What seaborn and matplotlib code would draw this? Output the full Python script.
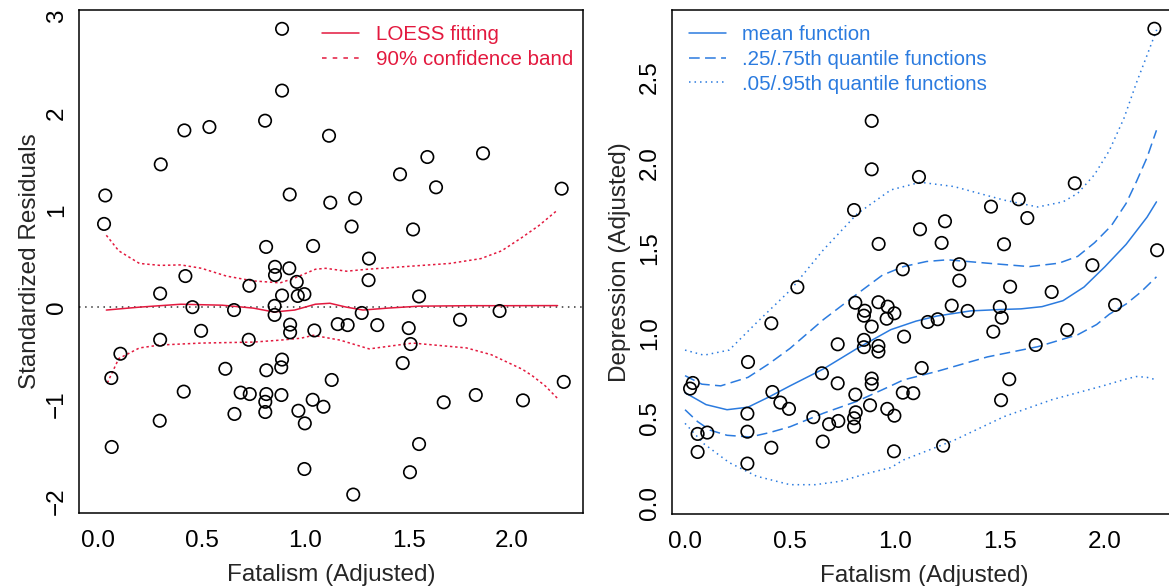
import matplotlib
matplotlib.use("Agg")
import matplotlib.pyplot as plt
import numpy as np
import pandas as pd
import seaborn as sns
from matplotlib.lines import Line2D

# ---- observations: adjusted fatalism, standardized residuals ----
resid_x = [0.035, 0.029, 0.303, 0.417, 0.538, 0.807, 0.889, 0.889, 0.926, 0.812,
           0.855, 0.924, 0.855, 0.422, 0.731, 0.300, 0.889, 0.960, 0.965, 0.997,
           1.116, 1.591, 1.860, 1.459, 1.633, 2.240, 1.122, 1.242, 1.225, 1.522,
           1.039, 1.309, 1.307, 1.551, 1.274, 1.940, 1.749, 0.928, 0.928, 1.045,
           1.158, 1.206, 1.349, 1.501, 1.510, 1.472, 0.889, 0.885, 1.129, 0.886,
           1.037, 1.089, 0.968, 0.999, 1.670, 1.825, 2.053, 2.250, 1.551, 1.507,
           0.997, 1.233, 0.456, 0.657, 0.853, 0.853, 0.498, 0.300, 0.728, 0.108,
           0.615, 0.813, 0.064, 0.414, 0.689, 0.733, 0.813, 0.808, 0.659, 0.808,
           0.298, 0.066]
resid_y = [1.15, 0.857, 1.47, 1.82, 1.855, 1.92, 2.866, 2.23, 1.16, 0.62,
           0.415, 0.40, 0.33, 0.32, 0.22, 0.14, 0.12, 0.26, 0.115, 0.134,
           1.765, 1.546, 1.584, 1.368, 1.234, 1.22, 1.076, 1.12, 0.83, 0.80,
           0.63, 0.50, 0.278, 0.11, -0.06, -0.04, -0.13, -0.18, -0.26, -0.24,
           -0.175, -0.185, -0.185, -0.216, -0.38, -0.576, -0.54, -0.62, -0.75, -0.905,
           -0.954, -1.026, -1.067, -1.197, -0.98, -0.905, -0.96, -0.77, -1.41, -1.70,
           -1.667, -1.93, 0.0, -0.03, 0.013, -0.08, -0.244, -0.336, -0.336, -0.48,
           -0.635, -0.65, -0.73, -0.87, -0.88, -0.895, -0.895, -0.975, -1.10, -1.08,
           -1.17, -1.44]

# LOESS fit of the residuals and its 90% band
loess_x = [0.04, 0.2, 0.4, 0.6, 0.75, 0.85, 0.95, 1.05, 1.12, 1.2, 1.28, 1.4, 1.55, 1.8, 2.0, 2.22]
loess_fit = [-0.03, 0.0, 0.03, 0.02, -0.01, -0.05, -0.03, 0.03, 0.04, 0.0, -0.03, -0.01, 0.01, 0.015, 0.015, 0.016]
band_hi_x = [0.04, 0.1, 0.2, 0.3, 0.4, 0.5, 0.62, 0.75, 0.88, 0.95, 1.05, 1.1, 1.2, 1.3, 1.5, 1.7, 1.85, 1.95, 2.05, 2.13, 2.22]
band_hi = [0.74, 0.58, 0.45, 0.43, 0.435, 0.40, 0.32, 0.27, 0.25, 0.30, 0.39, 0.40, 0.37, 0.39, 0.42, 0.45, 0.50, 0.58, 0.72, 0.84, 1.0]
band_lo_x = [0.045, 0.1, 0.2, 0.3, 0.5, 0.75, 0.88, 0.98, 1.04, 1.17, 1.31, 1.52, 1.78, 1.9, 1.97, 2.05, 2.1, 2.16, 2.22]
band_lo = [-0.78, -0.53, -0.42, -0.39, -0.37, -0.36, -0.34, -0.32, -0.29, -0.34, -0.43, -0.37, -0.42, -0.49, -0.56, -0.64, -0.71, -0.81, -0.94]

# ---- observations: adjusted fatalism, adjusted depression ----
dep_x = [0.889, 0.889, 0.805, 0.922, 0.535, 2.235, 1.114, 1.856, 1.589, 1.457,
         1.630, 1.238, 1.119, 1.222, 1.519, 2.248, 1.940, 1.037, 1.306, 1.306,
         1.548, 1.746, 0.921, 0.965, 0.997, 0.960, 0.889, 1.270, 1.346, 1.499,
         1.508, 1.156, 1.203, 1.468, 2.048, 1.820, 1.670, 1.043, 0.921, 0.921,
         1.127, 0.889, 0.889, 1.544, 1.037, 1.087, 0.881, 0.963, 0.997, 1.505,
         0.995, 1.229, 0.811, 0.856, 0.852, 0.411, 0.727, 0.852, 0.852, 0.300,
         0.652, 0.037, 0.024, 0.727, 0.416, 0.454, 0.495, 0.811, 0.297, 0.611,
         0.813, 0.805, 0.730, 0.686, 0.805, 0.297, 0.060, 0.106, 0.060, 0.411,
         0.656, 0.297]
dep_y = [2.245, 1.961, 1.722, 1.523, 1.269, 2.786, 1.916, 1.879, 1.785, 1.742,
         1.675, 1.656, 1.609, 1.529, 1.521, 1.486, 1.398, 1.374, 1.404, 1.308,
         1.272, 1.241, 1.181, 1.155, 1.116, 1.084, 1.038, 1.161, 1.130, 1.153,
         1.090, 1.065, 1.081, 1.008, 1.165, 1.018, 0.930, 0.979, 0.924, 0.891,
         0.795, 0.733, 0.700, 0.729, 0.650, 0.647, 0.576, 0.555, 0.515, 0.606,
         0.306, 0.339, 1.178, 1.131, 1.102, 1.057, 0.934, 0.960, 0.917, 0.830,
         0.764, 0.707, 0.674, 0.705, 0.654, 0.592, 0.555, 0.639, 0.527, 0.506,
         0.535, 0.500, 0.484, 0.465, 0.451, 0.421, 0.408, 0.416, 0.302, 0.327,
         0.363, 0.234]

# mean and quantile functions of depression given fatalism
mean_x = [0.0, 0.1, 0.2, 0.3, 0.4, 0.5, 0.66, 0.82, 0.98, 1.1, 1.2, 1.36, 1.5, 1.6, 1.7, 1.8, 1.9, 2.0, 2.1, 2.2, 2.245]
mean_y = [0.65, 0.58, 0.55, 0.565, 0.625, 0.69, 0.79, 0.91, 1.02, 1.07, 1.10, 1.13, 1.138, 1.142, 1.155, 1.19, 1.27, 1.39, 1.52, 1.68, 1.77]
q75_x = [0.0, 0.08, 0.17, 0.3, 0.4, 0.5, 0.66, 0.82, 0.94, 1.04, 1.15, 1.25, 1.44, 1.64, 1.78, 1.87, 1.95, 2.03, 2.1, 2.15, 2.2, 2.245]
q75_y = [0.75, 0.70, 0.69, 0.74, 0.82, 0.91, 1.08, 1.23, 1.34, 1.39, 1.42, 1.43, 1.41, 1.39, 1.41, 1.45, 1.53, 1.63, 1.76, 1.89, 2.03, 2.19]
q25_x = [0.0, 0.06, 0.12, 0.2, 0.31, 0.4, 0.5, 0.66, 0.82, 0.98, 1.04, 1.2, 1.44, 1.68, 1.87, 1.96, 2.02, 2.1, 2.17, 2.245]
q25_y = [0.55, 0.48, 0.43, 0.40, 0.39, 0.415, 0.45, 0.53, 0.60, 0.69, 0.725, 0.775, 0.86, 0.92, 0.99, 1.05, 1.11, 1.17, 1.24, 1.33]
q95_x = [0.0, 0.09, 0.21, 0.34, 0.5, 0.66, 0.82, 0.98, 1.12, 1.28, 1.52, 1.68, 1.8, 1.87, 1.95, 2.02, 2.09, 2.15, 2.2, 2.246]
q95_y = [0.90, 0.87, 0.90, 1.06, 1.25, 1.49, 1.70, 1.84, 1.885, 1.86, 1.78, 1.74, 1.77, 1.82, 1.93, 2.07, 2.26, 2.47, 2.63, 2.78]
q05_x = [0.0, 0.09, 0.21, 0.34, 0.5, 0.62, 0.74, 0.88, 0.98, 1.04, 1.28, 1.52, 1.75, 1.99, 2.1, 2.15, 2.2, 2.246]
q05_y = [0.47, 0.35, 0.24, 0.16, 0.11, 0.11, 0.13, 0.18, 0.21, 0.255, 0.37, 0.51, 0.61, 0.69, 0.73, 0.745, 0.74, 0.725]

left_xticks = [0.0, 0.5, 1.0, 1.5, 2.0]
left_yticks = [-2, -1, 0, 1, 2, 3]
right_xticks = [0.0, 0.5, 1.0, 1.5, 2.0]
right_yticks = [0.0, 0.5, 1.0, 1.5, 2.0, 2.5]

RED = "#E3193E"
BLUE = "#2B7BDF"
FS = 17.5
LEG_FS = 14.8

sns.set_style("white")
plt.rcParams["font.family"] = ["Liberation Sans", "DejaVu Sans"]
plt.rcParams["axes.unicode_minus"] = True

W, H = 1169, 586
fig = plt.figure(figsize=(W / 100, H / 100), dpi=100)


def px_axes(left, top, width, height):
    return fig.add_axes([left / W, 1 - (top + height) / H, width / W, height / H])


ax1 = px_axes(79, 10, 504, 503)
ax2 = px_axes(672, 10, 504, 504)


def style_axes(ax, xlim, ylim, xticks, yticks, fmt_y):
    ax.set_xlim(*xlim)
    ax.set_ylim(*ylim)
    ax.set_xticks(xticks)
    ax.set_xticklabels([f"{v:.1f}" for v in xticks])
    ax.set_yticks(yticks)
    ax.set_yticklabels([fmt_y(v) for v in yticks])
    for s in ax.spines.values():
        s.set_visible(True)
        s.set_color("black")
        s.set_linewidth(1.1)
    ax.tick_params(direction="in", length=5, width=1.1, color="black",
                   labelsize=FS, labelcolor="black")
    ax.tick_params(axis="x", pad=12)
    ax.tick_params(axis="y", pad=8)
    for lab in ax.get_yticklabels():
        lab.set_rotation(90)
        lab.set_va("center")
        lab.set_ha("right")
    ax.grid(False)


def draw_points(ax, xs, ys):
    df = pd.DataFrame({"x": xs, "y": ys})
    sns.scatterplot(data=df, x="x", y="y", ax=ax, s=80, facecolor="none",
                    edgecolor="black", linewidth=1.2, zorder=3)


def draw_curve(ax, xs, ys, color, ls, lw=1.1):
    df = pd.DataFrame({"x": xs, "y": ys})
    sns.lineplot(data=df, x="x", y="y", ax=ax, sort=False, estimator=None,
                 color=color, linestyle=ls, linewidth=lw, zorder=2)


# ---- left: standardized residuals ----
ax1.axhline(0, color="#333333", linestyle=(0, (1, 3)), linewidth=1.1, zorder=1)
draw_points(ax1, resid_x, resid_y)
draw_curve(ax1, loess_x, loess_fit, RED, "-")
draw_curve(ax1, band_hi_x, band_hi, RED, (0, (1.6, 1.8)))
draw_curve(ax1, band_lo_x, band_lo, RED, (0, (1.6, 1.8)))
style_axes(ax1, (-0.092, 2.343), (-2.12, 3.06), left_xticks, left_yticks,
           lambda v: f"{v:d}".replace("-", "\u2212"))
ax1.set_xlabel("Fatalism (Adjusted)", fontsize=FS)
ax1.set_ylabel("Standardized Residuals", fontsize=FS)

h1 = [Line2D([], [], color=RED, lw=1.1, ls="-"),
      Line2D([], [], color=RED, lw=1.1, ls=(0, (3, 4)))]
leg1 = ax1.legend(h1, ["LOESS fitting", "90% confidence band"],
                  loc="upper left", bbox_to_anchor=(322 / W, 1 - 25 / H),
                  bbox_transform=fig.transFigure, frameon=False,
                  fontsize=LEG_FS, handlelength=1.8, handletextpad=0.85,
                  labelspacing=0.28, borderpad=0, borderaxespad=0)
for t in leg1.get_texts():
    t.set_color(RED)

# ---- right: depression against fatalism ----
draw_points(ax2, dep_x, dep_y)
draw_curve(ax2, mean_x, mean_y, BLUE, "-")
draw_curve(ax2, q75_x, q75_y, BLUE, (0, (7, 3.5)))
draw_curve(ax2, q25_x, q25_y, BLUE, (0, (7, 3.5)))
draw_curve(ax2, q95_x, q95_y, BLUE, (0, (1, 2.6)))
draw_curve(ax2, q05_x, q05_y, BLUE, (0, (1, 2.6)))
style_axes(ax2, (-0.062, 2.338), (-0.062, 2.896), right_xticks, right_yticks,
           lambda v: f"{v:.1f}")
ax2.set_xlabel("Fatalism (Adjusted)", fontsize=FS)
ax2.set_ylabel("Depression (Adjusted)", fontsize=FS)

h2 = [Line2D([], [], color=BLUE, lw=1.1, ls="-"),
      Line2D([], [], color=BLUE, lw=1.1, ls=(0, (7, 3.5))),
      Line2D([], [], color=BLUE, lw=1.1, ls=(0, (1, 2.6)))]
leg2 = ax2.legend(h2, ["mean function", ".25/.75th quantile functions",
                       ".05/.95th quantile functions"],
                  loc="upper left", bbox_to_anchor=(689 / W, 1 - 25 / H),
                  bbox_transform=fig.transFigure, frameon=False,
                  fontsize=LEG_FS, handlelength=1.8, handletextpad=0.8,
                  labelspacing=0.28, borderpad=0, borderaxespad=0)
for t in leg2.get_texts():
    t.set_color(BLUE)

for ax in (ax1, ax2):
    ax.xaxis.label.set_va("center")
    ax.yaxis.label.set_va("center")
    ax.xaxis.set_label_coords(0.5, -62 / 503)

ax1.yaxis.set_label_coords(-49 / 504, 0.5)
ax2.yaxis.set_label_coords(-52 / 504, 0.5)

fig.savefig("out.png", dpi=100, facecolor="white")
